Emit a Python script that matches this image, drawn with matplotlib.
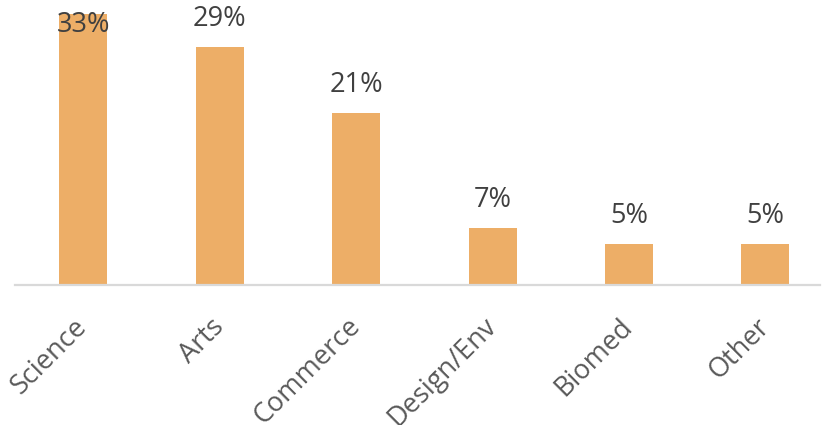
import matplotlib
matplotlib.use("Agg")
import matplotlib.pyplot as plt

categories = ["Science", "Arts", "Commerce", "Design/Env", "Biomed", "Other"]
shares = [33, 29, 21, 7, 5, 5]
value_labels = ["33%", "29%", "21%", "7%", "5%", "5%"]

plt.rcParams["font.family"] = ["Open Sans", "DejaVu Sans"]

fig = plt.figure(figsize=(8.24, 4.25), dpi=100)
ax = fig.add_axes([15 / 824, 1 - 285 / 425, 805 / 824, 285 / 425])

x = list(range(len(categories)))
ax.bar(x, shares, width=0.352, color="#EDAE67", zorder=2)

ymax = 34.75
ax.set_ylim(0, ymax)
ax.set_xlim(-0.5, 5.40)

for xi, v, lab in zip(x, shares, value_labels):
    if v + 4 > ymax:
        ax.annotate(lab, (xi, ymax), xytext=(0, -8), textcoords="offset points",
                    ha="center", va="top", fontsize=19.5, color="#404040")
    else:
        ax.annotate(lab, (xi, v), xytext=(0, 10), textcoords="offset points",
                    ha="center", va="bottom", fontsize=19.5, color="#404040")

ax.set_xticks(x)
ax.set_xticklabels(categories, rotation=45, ha="right", va="center",
                   rotation_mode="anchor", fontsize=19.5, color="#595959")
ax.tick_params(axis="x", length=0, pad=27)
ax.set_yticks([])

for side in ["top", "right", "left"]:
    ax.spines[side].set_visible(False)
ax.spines["bottom"].set_color("#D9D9D9")
ax.spines["bottom"].set_linewidth(1.6)

fig.savefig("out.png", dpi=100)
